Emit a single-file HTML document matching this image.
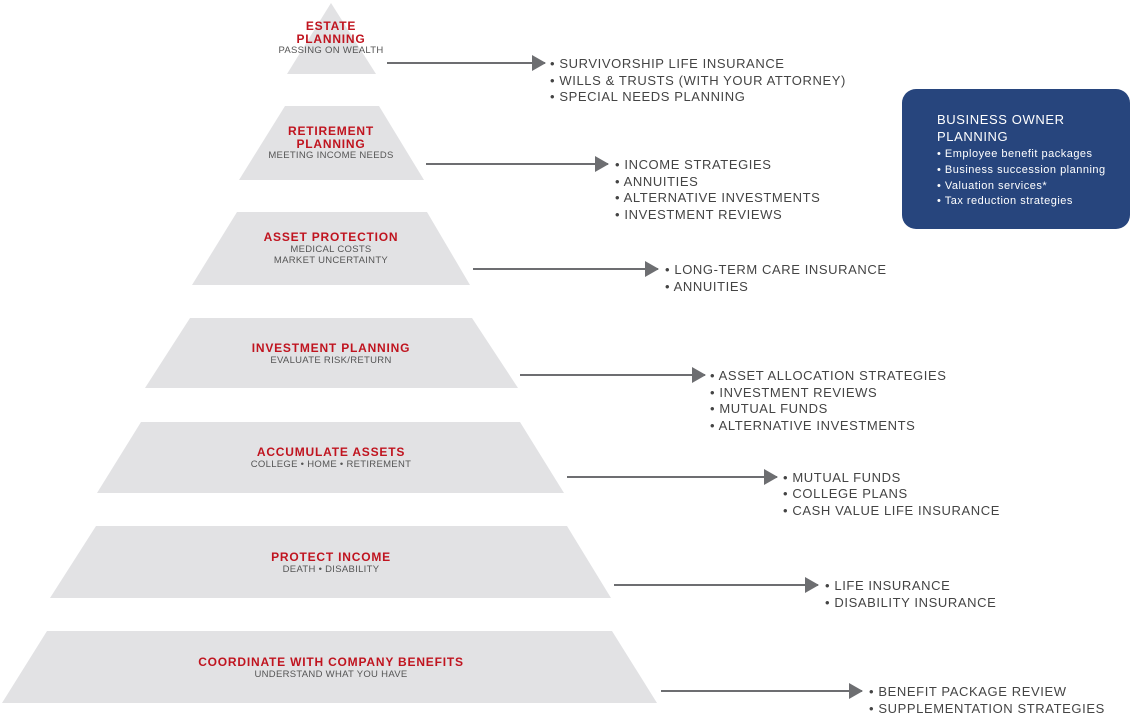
<!DOCTYPE html>
<html><head><meta charset="utf-8"><style>
html,body{margin:0;padding:0;background:#fff;}
svg{display:block}
.t{font-family:"Liberation Sans",sans-serif;font-weight:bold;fill:#c0141f;font-size:12px;letter-spacing:0.8px;text-anchor:middle}
.s{font-family:"Liberation Sans",sans-serif;fill:#555;font-size:9.5px;letter-spacing:0.3px;text-anchor:middle}
.b{font-family:"Liberation Sans",sans-serif;fill:#444;font-size:13px;letter-spacing:0.6px}
.w{font-family:"Liberation Sans",sans-serif;fill:#fff}
</style></head><body>
<svg width="1130" height="714" viewBox="0 0 1130 714" xmlns="http://www.w3.org/2000/svg">
<defs>
<marker id="m" markerWidth="14" markerHeight="16" refX="13" refY="8" orient="auto" markerUnits="userSpaceOnUse"><path d="M0,0 L14,8 L0,16 z" fill="#6d6e71"/></marker></defs>
<g fill="#e2e2e4">
<polygon points="331,3 376,74 287,74"/>
<polygon points="285,106 379,106 424,180 239,180"/>
<polygon points="237,212 427,212 470,285 192,285"/>
<polygon points="190,318 472,318 518,388 145,388"/>
<polygon points="141,422 520,422 564,493 97,493"/>
<polygon points="96,526 567,526 611,598 50,598"/>
<polygon points="47,631 612,631 657,703 2,703"/>
</g>
<text class="t" x="331" y="30">ESTATE</text><text class="t" x="331" y="43">PLANNING</text><text class="s" x="331" y="53">PASSING ON WEALTH</text>
<text class="t" x="331" y="135">RETIREMENT</text><text class="t" x="331" y="148">PLANNING</text><text class="s" x="331" y="158">MEETING INCOME NEEDS</text>
<text class="t" x="331" y="241">ASSET PROTECTION</text><text class="s" x="331" y="252">MEDICAL COSTS</text><text class="s" x="331" y="263">MARKET UNCERTAINTY</text>
<text class="t" x="331" y="352">INVESTMENT PLANNING</text><text class="s" x="331" y="363">EVALUATE RISK/RETURN</text>
<text class="t" x="331" y="456">ACCUMULATE ASSETS</text><text class="s" x="331" y="467">COLLEGE • HOME • RETIREMENT</text>
<text class="t" x="331" y="561">PROTECT INCOME</text><text class="s" x="331" y="572">DEATH • DISABILITY</text>
<text class="t" x="331" y="666">COORDINATE WITH COMPANY BENEFITS</text><text class="s" x="331" y="677">UNDERSTAND WHAT YOU HAVE</text>
<g stroke="#6d6e71" stroke-width="2" marker-end="url(#m)">
<line x1="387" y1="63" x2="545" y2="63"/>
<line x1="426" y1="164" x2="608" y2="164"/>
<line x1="473" y1="269" x2="658" y2="269"/>
<line x1="520" y1="375" x2="705" y2="375"/>
<line x1="567" y1="477" x2="777" y2="477"/>
<line x1="614" y1="585" x2="818" y2="585"/>
<line x1="661" y1="691" x2="862" y2="691"/>
</g>
<g class="b">
<text x="550" y="68">• SURVIVORSHIP LIFE INSURANCE</text>
<text x="550" y="85">• WILLS &amp; TRUSTS (WITH YOUR ATTORNEY)</text>
<text x="550" y="101">• SPECIAL NEEDS PLANNING</text>
<text x="615" y="169">• INCOME STRATEGIES</text>
<text x="615" y="186">• ANNUITIES</text>
<text x="615" y="202">• ALTERNATIVE INVESTMENTS</text>
<text x="615" y="219">• INVESTMENT REVIEWS</text>
<text x="665" y="274">• LONG-TERM CARE INSURANCE</text>
<text x="665" y="291">• ANNUITIES</text>
<text x="710" y="380">• ASSET ALLOCATION STRATEGIES</text>
<text x="710" y="397">• INVESTMENT REVIEWS</text>
<text x="710" y="413">• MUTUAL FUNDS</text>
<text x="710" y="430">• ALTERNATIVE INVESTMENTS</text>
<text x="783" y="482">• MUTUAL FUNDS</text>
<text x="783" y="498">• COLLEGE PLANS</text>
<text x="783" y="515">• CASH VALUE LIFE INSURANCE</text>
<text x="825" y="590">• LIFE INSURANCE</text>
<text x="825" y="607">• DISABILITY INSURANCE</text>
<text x="869" y="696">• BENEFIT PACKAGE REVIEW</text>
<text x="869" y="713">• SUPPLEMENTATION STRATEGIES</text>
</g>
<rect x="902" y="89" width="228" height="140" rx="14" fill="#27457d"/>
<text class="w" x="937" y="124" font-size="13" letter-spacing="0.6">BUSINESS OWNER</text>
<text class="w" x="937" y="141" font-size="13" letter-spacing="0.6">PLANNING</text>
<g class="w" font-size="11" fill="#e4e8f0" letter-spacing="0.5">
<text x="937" y="157">• Employee benefit packages</text>
<text x="937" y="173">• Business succession planning</text>
<text x="937" y="189">• Valuation services*</text>
<text x="937" y="204">• Tax reduction strategies</text>
</g>
</svg>
</body></html>
